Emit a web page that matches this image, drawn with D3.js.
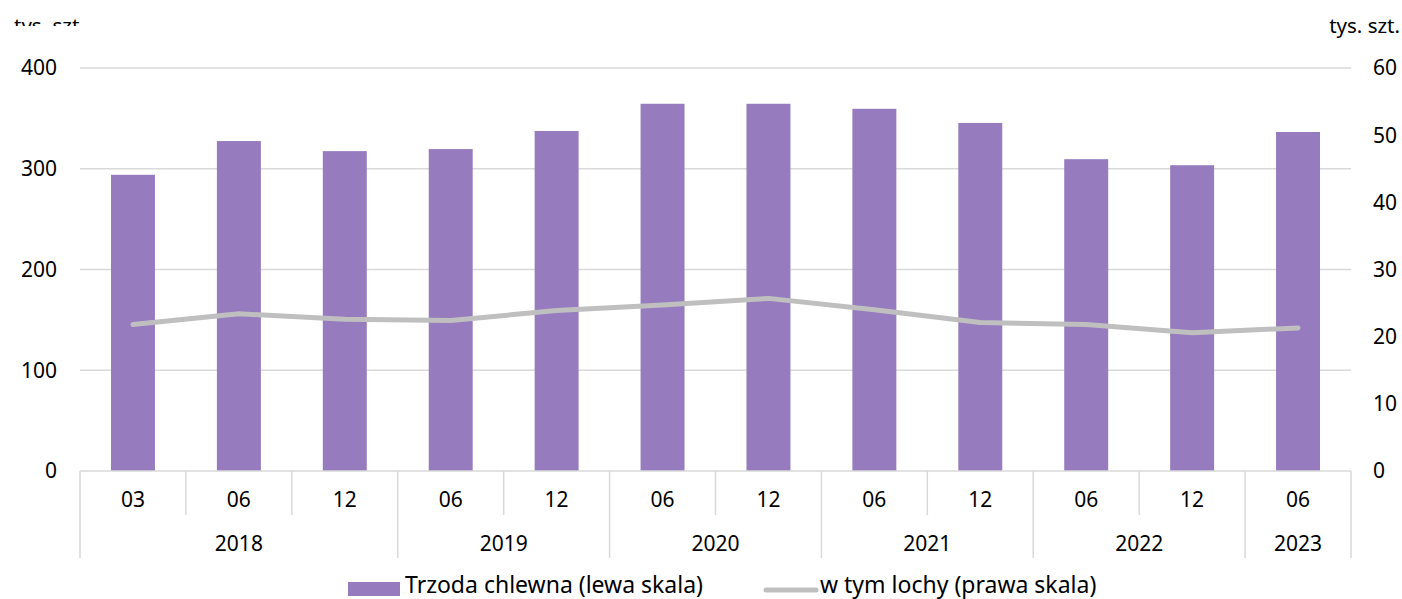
<!DOCTYPE html>
<html>
<head>
<meta charset="utf-8">
<script src="https://cdn.jsdelivr.net/npm/d3@7"></script>
<style>
  body { margin: 0; background: #fff; }
  svg { display: block; font-family: "Noto Sans", sans-serif; }
</style>
</head>
<body>
<div id="chart"></div>
<script>
// months and the year each belongs to
const months = ["03", "06", "12", "06", "12", "06", "12", "06", "12", "06", "12", "06"];
const years = ["2018", "2018", "2018", "2019", "2019", "2020", "2020", "2021", "2021", "2022", "2022", "2023"];
// tys. szt.
const pigs = [294, 327.5, 317.5, 319.5, 337.5, 364.5, 364.5, 359.5, 345.5, 309.5, 303.5, 336.5];
const sows = [21.8, 23.4, 22.6, 22.4, 23.9, 24.7, 25.7, 24.0, 22.1, 21.8, 20.6, 21.3];
const leftTicks = [0, 100, 200, 300, 400];
const rightTicks = [0, 10, 20, 30, 40, 50, 60];

const W = 1402, H = 599;
const M = { top: 68, right: 51, bottom: 128, left: 80 };
const innerW = W - M.left - M.right;
const innerH = H - M.top - M.bottom;

const svg = d3.select("#chart").append("svg")
  .attr("width", W)
  .attr("height", H);

const keys = months.map((m, i) => i);

const x = d3.scaleBand()
  .domain(keys)
  .range([M.left, M.left + innerW])
  .paddingInner(0.585)
  .paddingOuter(0.2925);

const step = innerW / months.length;

const yL = d3.scaleLinear().domain([0, 400]).range([M.top + innerH, M.top]);
const yR = d3.scaleLinear().domain([0, 60]).range([M.top + innerH, M.top]);

// gridlines
svg.append("g")
  .selectAll("line")
  .data(leftTicks.slice(1))
  .join("line")
  .attr("x1", M.left)
  .attr("x2", M.left + innerW)
  .attr("y1", d => yL(d))
  .attr("y2", d => yL(d))
  .attr("stroke", "#d9d9d9")
  .attr("stroke-width", 1.5);

// left axis labels
svg.append("g")
  .selectAll("text")
  .data(leftTicks)
  .join("text")
  .attr("x", 57)
  .attr("y", d => yL(d))
  .attr("dy", "0.35em")
  .attr("text-anchor", "end")
  .style("font-size", "21px")
  .style("fill", "#000")
  .text(d => d);

// right axis labels
svg.append("g")
  .selectAll("text")
  .data(rightTicks)
  .join("text")
  .attr("x", 1373)
  .attr("y", d => yR(d))
  .attr("dy", "0.35em")
  .style("font-size", "21px")
  .style("fill", "#000")
  .text(d => d);

// unit labels
svg.append("clipPath").attr("id", "unitclip")
  .append("rect").attr("x", 0).attr("y", 0).attr("width", 120).attr("height", 26);
svg.append("text")
  .attr("x", 14)
  .attr("y", 33)
  .attr("clip-path", "url(#unitclip)")
  .style("font-size", "20.5px")
  .style("fill", "#000")
  .text("tys. szt.");
svg.append("text")
  .attr("x", 1400)
  .attr("y", 33)
  .attr("text-anchor", "end")
  .style("font-size", "20.5px")
  .style("fill", "#000")
  .text("tys. szt.");

// bars
svg.append("g")
  .selectAll("rect")
  .data(pigs)
  .join("rect")
  .attr("x", (d, i) => x(i))
  .attr("width", x.bandwidth())
  .attr("y", d => yL(d))
  .attr("height", d => yL(0) - yL(d))
  .attr("fill", "#967bbf");

// line (right scale)
svg.append("path")
  .datum(sows)
  .attr("fill", "none")
  .attr("stroke", "#bfbfbf")
  .attr("stroke-width", 5)
  .attr("stroke-linecap", "round")
  .attr("stroke-linejoin", "round")
  .attr("d", d3.line()
    .x((d, i) => x(i) + x.bandwidth() / 2)
    .y(d => yR(d)));

// category axis
const axisY = yL(0);
const ax = svg.append("g").attr("stroke", "#d9d9d9").attr("stroke-width", 1.5);
ax.append("line")
  .attr("x1", M.left).attr("x2", M.left + innerW)
  .attr("y1", axisY).attr("y2", axisY);

// separators: tall at year boundaries, short between months
const bounds = d3.range(months.length + 1);
ax.selectAll("line.sep")
  .data(bounds)
  .join("line")
  .attr("class", "sep")
  .attr("x1", i => M.left + i * step)
  .attr("x2", i => M.left + i * step)
  .attr("y1", axisY)
  .attr("y2", i => (i === 0 || i === months.length || years[i] !== years[i - 1]) ? 558 : 515);

svg.append("g")
  .selectAll("text")
  .data(months)
  .join("text")
  .attr("x", (d, i) => x(i) + x.bandwidth() / 2)
  .attr("y", 507)
  .attr("text-anchor", "middle")
  .style("font-size", "21px")
  .style("fill", "#000")
  .text(d => d);

const yearGroups = d3.groups(years.map((y, i) => ({ y, i })), d => d.y);
svg.append("g")
  .selectAll("text")
  .data(yearGroups)
  .join("text")
  .attr("x", ([, arr]) => M.left + (arr[0].i + arr[arr.length - 1].i + 1) / 2 * step)
  .attr("y", 551)
  .attr("text-anchor", "middle")
  .style("font-size", "21px")
  .style("fill", "#000")
  .text(([y]) => y);

// legend
const lg = svg.append("g");
lg.append("rect")
  .attr("x", 348).attr("y", 582)
  .attr("width", 52).attr("height", 14)
  .attr("fill", "#967bbf");
lg.append("text")
  .attr("x", 405).attr("y", 593)
  .style("font-size", "23px")
  .style("fill", "#000")
  .text("Trzoda chlewna (lewa skala)");
lg.append("line")
  .attr("x1", 766).attr("x2", 816)
  .attr("y1", 590).attr("y2", 590)
  .attr("stroke", "#bfbfbf")
  .attr("stroke-width", 5)
  .attr("stroke-linecap", "round");
lg.append("text")
  .attr("x", 820).attr("y", 593)
  .style("font-size", "23px")
  .style("fill", "#000")
  .text("w tym lochy (prawa skala)");
</script>
</body>
</html>
